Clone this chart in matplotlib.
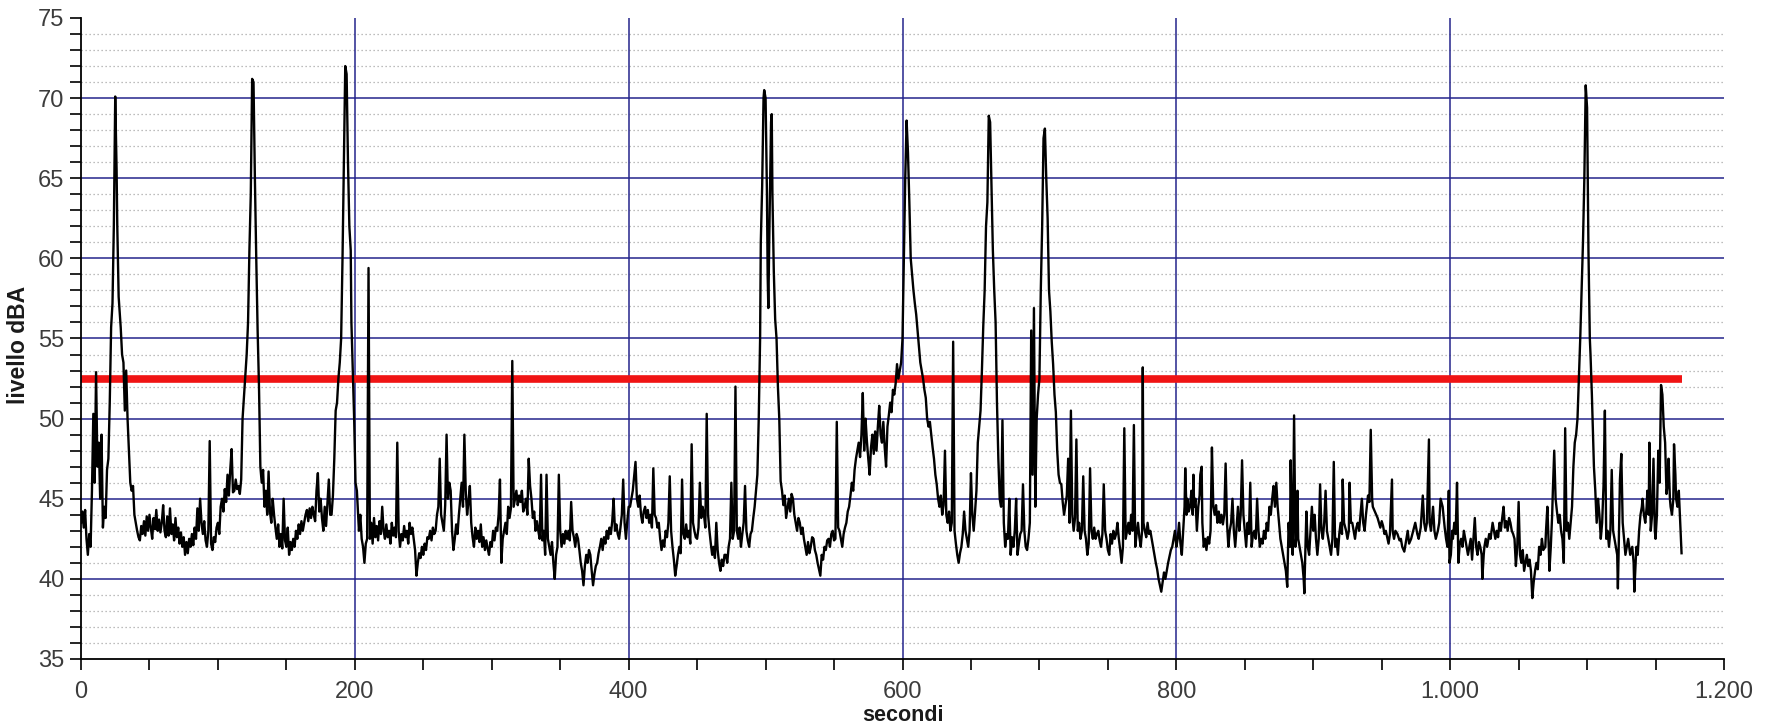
import matplotlib
matplotlib.use("Agg")
import matplotlib.pyplot as plt
import matplotlib.ticker as mticker

# ── data (seconds, dBA) ───────────────────────────────────────────────────────
seg_0_200 = [
    (0, 43.5), (1, 44.2), (2, 43.2), (3, 44.3), (4, 42.5), (5, 41.5), (6, 42.8), (7, 42.0),
    (8, 45.5), (9, 50.3), (10, 46.0), (11, 52.9), (12, 47.0), (13, 48.5), (14, 45.0), (15, 49.0),
    (16, 43.2), (17, 44.5), (18, 43.8), (19, 46.8), (20, 47.5), (21, 51.0), (22, 55.7), (23, 57.2),
    (24, 62.1), (25, 70.1), (26, 65.5), (26.5, 62.0), (27.5, 57.6), (29, 55.7), (30, 54.0), (31, 53.5),
    (32, 50.5), (33, 53.0), (34, 50.0), (35, 48.0), (36, 46.0), (37, 45.5), (38, 45.8), (39, 44.0),
    (40, 43.5), (41, 43.0), (42, 42.6), (43, 42.4), (44, 43.3), (45, 42.8), (46, 43.6), (47, 42.7),
    (48, 43.9), (49, 43.0), (50, 44.0), (51, 43.2), (52, 42.5), (53, 43.8), (54, 43.1), (55, 44.3),
    (56, 43.0), (57, 43.7), (58, 42.9), (59, 43.5), (60, 44.6), (61, 43.0), (62, 42.6), (63, 43.9),
    (64, 42.7), (65, 44.4), (66, 42.8), (67, 43.4), (68, 42.4), (69, 43.8), (70, 42.6), (71, 43.2),
    (72, 42.2), (73, 42.9), (74, 42.0), (75, 42.6), (76, 41.5), (77, 42.3), (78, 41.6), (79, 42.5),
    (80, 42.0), (81, 42.8), (82, 42.1), (83, 43.2), (84, 42.5), (85, 44.4), (86, 43.0), (87, 45.0),
    (88, 43.5), (89, 42.8), (90, 43.6), (91, 42.4), (92, 42.0), (93, 43.0), (94, 48.6), (95, 42.2),
    (96, 41.8), (97, 42.6), (98, 42.3), (99, 43.2), (100, 43.5), (101, 42.8), (102, 44.5), (103, 45.0),
    (104, 44.2), (105, 45.6), (106, 44.8), (107, 46.5), (108, 45.2), (109, 46.8), (110, 48.1), (111, 45.4),
    (112, 45.5), (113, 46.2), (114, 45.6), (115, 45.8), (116, 45.3), (117, 46.2), (118, 50.0), (119, 51.3),
    (120, 52.6), (121, 54.0), (122, 56.0), (123, 60.5), (124, 64.0), (125, 71.2), (126, 71.0), (127, 65.0),
    (128, 60.0), (129, 55.5), (130, 52.0), (131, 47.0), (132, 46.0), (133, 46.8), (134, 44.5), (135, 45.5),
    (136, 44.0), (137, 46.7), (138, 44.2), (139, 43.5), (140, 45.0), (141, 44.0), (142, 43.2), (143, 42.5),
    (144, 43.4), (145, 42.0), (146, 42.8), (147, 41.9), (148, 45.0), (149, 42.4), (150, 42.0), (151, 43.2),
    (152, 41.5), (153, 42.3), (154, 41.8), (155, 42.5), (156, 42.0), (157, 43.0), (158, 42.5), (159, 43.4),
    (160, 42.8), (161, 43.6), (162, 43.0), (163, 43.5), (164, 44.0), (165, 44.3), (166, 43.6), (167, 44.4),
    (168, 43.8), (169, 44.5), (170, 44.0), (171, 43.6), (172, 45.5), (173, 46.6), (174, 44.2), (175, 45.0),
    (176, 43.8), (177, 43.0), (178, 44.5), (179, 43.3), (180, 44.8), (181, 46.2), (182, 44.0), (183, 44.0),
    (184, 45.2), (185, 47.5), (186, 50.5), (187, 51.0), (188, 52.5), (189, 53.5), (190, 55.0), (191, 60.0),
    (192, 66.0), (193, 72.0), (194, 71.5), (195, 66.0), (196, 62.0), (197, 60.5), (197.5, 56.0),
    (198.5, 53.0), (199.5, 50.0), (200.5, 46.0),
]

seg_200_400 = [
    (201.5, 45.5), (203, 43.0), (204, 44.0), (205, 42.5), (206, 42.0), (207, 41.0), (208, 42.2), (209, 42.5),
    (210, 59.4), (211, 42.5), (212, 43.5), (213, 42.2), (214, 43.8), (215, 42.6), (216, 43.3), (217, 42.4),
    (218, 43.6), (219, 42.8), (220, 44.5), (221, 43.0), (222, 42.5), (223, 43.4), (224, 42.6), (225, 43.0),
    (226, 42.2), (227, 43.5), (228, 42.7), (229, 43.2), (230, 42.6), (231, 48.5), (232, 43.0), (233, 42.0),
    (234, 42.8), (235, 42.4), (236, 43.3), (237, 42.6), (238, 43.0), (239, 42.2), (240, 43.5), (241, 42.8),
    (242, 43.2), (243, 42.5), (244, 41.8), (245, 40.2), (246, 41.0), (247, 41.6), (248, 41.3), (249, 42.0),
    (250, 41.5), (251, 42.2), (252, 41.8), (253, 42.6), (254, 42.5), (255, 43.0), (256, 42.4), (257, 43.2),
    (258, 42.8), (259, 43.0), (260, 44.0), (261, 44.5), (262, 47.5), (263, 44.0), (264, 43.5), (265, 43.0),
    (266, 44.6), (267, 49.0), (268, 45.0), (269, 46.0), (270, 45.5), (271, 43.0), (272, 41.8), (273, 42.5),
    (274, 43.4), (275, 42.8), (276, 44.0), (277, 45.0), (278, 46.0), (279, 44.5), (280, 49.0), (281, 45.5),
    (282, 44.0), (283, 44.8), (284, 45.8), (285, 43.5), (286, 42.6), (287, 42.0), (288, 43.2), (289, 42.5),
    (290, 43.0), (291, 42.3), (292, 43.4), (293, 42.0), (294, 42.6), (295, 41.8), (296, 42.4), (297, 41.9),
    (298, 41.5), (299, 42.3), (300, 42.0), (301, 43.0), (302, 42.4), (303, 43.2), (304, 43.0), (305, 44.0),
    (306, 46.2), (307, 41.0), (308, 42.5), (309, 43.0), (310, 43.5), (311, 42.8), (312, 44.5), (313, 43.8),
    (314, 44.4), (315, 53.6), (316, 44.5), (317, 45.0), (318, 45.5), (319, 44.6), (320, 45.2), (321, 44.8),
    (322, 45.5), (323, 44.2), (324, 44.5), (325, 45.0), (326, 44.0), (327, 47.5), (328, 45.8), (329, 45.0),
    (330, 43.8), (331, 44.2), (332, 43.0), (333, 43.6), (334, 43.0), (335, 42.5), (336, 46.5), (337, 42.4),
    (338, 43.0), (339, 41.5), (340, 46.5), (341, 42.5), (342, 42.0), (343, 41.5), (344, 42.3), (345, 41.0),
    (346, 40.0), (347, 41.5), (348, 42.0), (349, 46.5), (350, 43.0), (351, 42.0), (352, 42.8), (353, 42.2),
    (354, 43.0), (355, 42.5), (356, 43.0), (357, 42.4), (358, 44.8), (359, 43.0), (360, 42.6), (361, 42.0),
    (362, 42.8), (363, 42.5), (364, 41.8), (365, 41.0), (366, 40.5), (367, 39.6), (368, 40.8), (369, 41.5),
    (370, 41.0), (371, 41.8), (372, 41.5), (373, 40.5), (374, 39.6), (375, 40.3), (376, 40.8), (377, 41.0),
    (378, 41.6), (379, 42.0), (380, 42.5), (381, 41.8), (382, 42.6), (383, 42.2), (384, 43.0), (385, 42.5),
    (386, 43.2), (387, 42.8), (388, 43.6), (389, 45.0), (390, 43.0), (391, 43.4), (392, 42.8), (393, 42.5),
    (394, 43.2), (395, 44.0), (396, 46.2), (397, 43.5), (398, 42.5), (399, 43.6), (400, 44.5),
]

seg_400_600 = [
    (401, 44.5), (402, 45.0), (403, 45.5), (404, 46.4), (405, 47.3), (406, 45.0), (407, 44.5), (408, 45.2),
    (409, 44.0), (410, 43.5), (411, 44.2), (412, 44.5), (413, 43.8), (414, 44.3), (415, 43.5), (416, 44.0),
    (417, 43.2), (418, 46.9), (419, 44.0), (420, 43.8), (421, 43.2), (422, 43.5), (423, 42.5), (424, 41.8),
    (425, 42.4), (426, 42.0), (427, 43.0), (428, 42.6), (429, 43.5), (430, 46.4), (431, 43.0), (432, 42.0),
    (433, 41.2), (434, 40.2), (435, 40.8), (436, 41.5), (437, 42.0), (438, 41.6), (439, 46.2), (440, 42.8),
    (441, 42.5), (442, 43.4), (443, 42.6), (444, 43.0), (445, 42.2), (446, 48.4), (447, 43.5), (448, 43.0),
    (449, 42.6), (450, 42.5), (451, 43.2), (452, 46.0), (453, 43.8), (454, 44.5), (455, 44.0), (456, 43.2),
    (457, 50.3), (458, 44.0), (459, 43.0), (460, 42.2), (461, 41.5), (462, 42.0), (463, 41.3), (464, 43.5),
    (465, 41.8), (466, 41.0), (467, 40.5), (468, 41.2), (469, 40.8), (470, 41.5), (471, 41.5), (472, 41.0),
    (473, 42.0), (474, 42.5), (475, 46.0), (476, 42.5), (477, 43.0), (478, 52.0), (479, 43.0), (480, 42.5),
    (481, 43.2), (482, 42.0), (483, 42.8), (484, 43.5), (485, 45.8), (486, 43.0), (487, 42.4), (488, 42.0),
    (489, 42.8), (490, 43.0), (491, 43.8), (492, 44.5), (493, 45.5), (494, 46.5), (495, 50.0), (496, 55.0),
    (496.5, 61.0), (497.5, 64.5), (498.5, 70.0), (499, 70.5), (500, 70.0), (501, 64.0), (501.5, 59.0),
    (502, 56.9), (503, 63.0), (504, 68.5), (504.5, 69.0), (505, 64.0), (506, 59.2), (507, 56.2), (508, 55.0),
    (509, 52.0), (510, 50.0), (511, 46.1), (512, 45.5), (513, 44.6), (514, 45.2), (515, 43.8), (516, 44.4),
    (517, 45.0), (518, 44.2), (519, 45.3), (520, 45.0), (521, 44.0), (522, 43.5), (523, 43.0), (524, 43.8),
    (525, 43.5), (526, 42.8), (527, 43.2), (528, 42.5), (529, 42.0), (530, 41.5), (531, 42.3), (532, 41.6),
    (533, 42.0), (534, 42.6), (535, 42.5), (536, 41.8), (537, 41.5), (538, 41.0), (539, 40.6), (540, 40.2),
    (541, 41.5), (542, 41.2), (543, 42.0), (544, 41.8), (545, 42.4), (546, 42.5), (547, 42.0), (548, 42.8),
    (549, 43.0), (550, 42.4), (551, 42.5), (552, 49.8), (553, 43.2), (554, 43.0), (555, 42.5), (556, 42.0),
    (557, 42.8), (558, 43.2), (559, 43.5), (560, 44.2), (561, 44.5), (562, 45.2), (563, 46.0), (564, 45.5),
    (565, 46.8), (566, 47.5), (567, 48.0), (568, 48.5), (569, 47.6), (570, 49.0), (571, 51.6), (572, 48.0),
    (573, 50.0), (574, 48.6), (575, 47.5), (576, 46.5), (577, 48.2), (578, 49.0), (579, 47.8), (580, 49.2),
    (581, 48.0), (582, 49.5), (583, 50.8), (584, 49.0), (585, 48.5), (586, 49.8), (587, 48.2), (588, 47.0),
    (589, 49.5), (590, 50.2), (591, 51.0), (592, 50.4), (593, 51.8), (594, 51.5), (595, 52.2), (596, 53.4),
    (597, 52.5), (598, 53.0), (599, 53.5), (600, 55.0),
]

seg_600_800 = [
    (601, 60.0), (602, 65.0), (603, 68.6), (604, 66.6), (605, 63.5), (606, 60.0), (607, 59.0), (608, 58.0),
    (609, 57.2), (610, 56.5), (611, 55.5), (612, 54.5), (613, 53.5), (614, 53.0), (615, 52.5), (616, 51.8),
    (617, 51.3), (618, 50.0), (619, 49.5), (620, 49.8), (621, 49.0), (622, 48.2), (623, 47.5), (624, 46.5),
    (625, 45.9), (626, 45.0), (627, 44.5), (628, 45.2), (629, 44.0), (630, 44.6), (631, 48.0), (632, 44.0),
    (633, 43.5), (634, 44.2), (635, 43.0), (636, 43.5), (637, 54.8), (638, 43.0), (639, 42.2), (640, 41.5),
    (641, 41.0), (642, 41.6), (643, 42.0), (644, 42.8), (645, 44.2), (646, 43.0), (647, 42.5), (648, 42.0),
    (649, 43.0), (650, 46.6), (651, 44.0), (652, 43.0), (653, 44.2), (654, 45.5), (655, 48.5), (656, 49.5),
    (657, 50.5), (658, 53.0), (659, 55.8), (660, 58.0), (661, 62.0), (662, 63.5), (663, 68.9), (664, 68.5),
    (665, 64.5), (666, 60.5), (667, 58.0), (668, 56.0), (669, 51.0), (670, 47.5), (671, 45.0), (672, 44.5),
    (673, 49.9), (674, 43.5), (675, 42.0), (676, 42.8), (677, 42.5), (678, 45.0), (679, 41.5), (680, 42.6),
    (681, 42.0), (682, 43.0), (683, 45.0), (684, 41.5), (685, 42.2), (686, 42.8), (687, 43.0), (688, 45.9),
    (689, 43.0), (690, 42.0), (691, 41.8), (692, 42.5), (693, 43.5), (694, 55.5), (695, 46.5), (696, 56.9),
    (697, 44.5), (698, 50.0), (699, 51.5), (700, 52.5), (701, 58.0), (702, 62.0), (703, 67.5), (704, 68.1),
    (705, 65.0), (706, 62.5), (707, 58.0), (708, 56.7), (709, 54.8), (710, 53.4), (711, 51.5), (712, 50.4),
    (713, 48.0), (714, 46.5), (715, 46.0), (716, 45.9), (717, 44.8), (718, 44.0), (719, 44.6), (720, 45.2),
    (721, 47.5), (722, 43.5), (723, 50.5), (724, 44.0), (725, 43.0), (726, 43.8), (727, 48.7), (728, 43.0),
    (729, 43.5), (730, 42.5), (731, 43.0), (732, 46.4), (733, 43.0), (734, 42.5), (735, 41.5), (736, 42.2),
    (737, 46.9), (738, 43.0), (739, 42.5), (740, 43.2), (741, 42.5), (742, 42.8), (743, 43.0), (744, 42.4),
    (745, 42.0), (746, 42.8), (747, 45.9), (748, 43.0), (749, 42.5), (750, 41.8), (751, 41.5), (752, 42.8),
    (753, 42.2), (754, 43.0), (755, 42.5), (756, 42.8), (757, 43.5), (758, 42.5), (759, 41.8), (760, 41.0),
    (761, 42.0), (762, 49.4), (763, 42.5), (764, 43.0), (765, 43.5), (766, 42.8), (767, 44.0), (768, 43.0),
    (769, 49.6), (770, 42.0), (771, 42.8), (772, 43.5), (773, 42.6), (774, 42.0), (775, 43.0), (775.5, 53.2),
    (776, 43.5), (777, 43.0), (778, 42.6), (779, 43.5), (780, 42.8), (781, 43.0), (782, 42.5), (783, 42.0),
    (784, 41.5), (785, 41.0), (786, 40.6), (787, 40.0), (788, 39.6), (789, 39.2), (790, 39.8), (791, 40.4),
    (792, 40.0), (793, 40.5), (794, 41.0), (795, 41.4), (796, 41.8), (797, 42.0), (798, 42.5), (799, 43.0),
    (800, 42.0),
]

seg_800_1000 = [
    (801, 42.5), (802, 43.5), (803, 42.2), (804, 41.5), (805, 43.0), (806, 44.5), (806.5, 46.9), (807.5, 44.0),
    (808, 45.0), (809, 44.2), (810, 44.5), (811, 45.5), (812, 44.0), (812.5, 46.5), (813, 44.5), (814, 45.0),
    (815, 43.0), (816, 44.5), (817, 45.2), (817.5, 46.5), (818.5, 47.0), (819, 43.5), (820, 42.0), (821, 42.5),
    (822, 41.8), (823, 42.6), (824, 42.2), (825, 43.0), (826, 48.2), (827, 44.5), (828, 44.0), (829, 44.6),
    (830, 43.5), (831, 44.2), (832, 43.5), (833, 44.0), (834, 43.4), (835, 44.0), (836, 47.2), (837, 43.5),
    (838, 42.0), (839, 43.0), (840, 43.5), (841, 45.0), (842, 43.0), (843, 42.0), (844, 43.2), (845, 44.5),
    (846, 43.0), (847, 44.0), (848, 47.4), (849, 44.0), (850, 43.0), (851, 42.0), (852, 43.5), (853, 42.8),
    (854, 46.0), (855, 42.0), (856, 42.8), (857, 43.0), (858, 42.5), (859, 45.0), (860, 43.0), (861, 42.0),
    (862, 42.5), (863, 42.2), (864, 43.0), (865, 42.5), (866, 43.5), (867, 43.0), (868, 44.5), (869, 44.0),
    (870, 45.0), (871, 45.8), (872, 44.5), (873, 46.0), (874, 44.5), (875, 43.5), (876, 42.5), (877, 42.0),
    (878, 41.5), (879, 41.0), (880, 40.5), (881, 39.5), (882, 43.5), (883, 42.0), (883.5, 47.4), (884.5, 42.0),
    (885, 41.5), (886, 50.2), (887, 42.0), (888, 43.0), (888.5, 45.5), (889, 42.5), (890, 42.0), (891, 41.5),
    (892, 41.0), (893, 40.0), (893.5, 39.1), (894, 41.0), (895, 44.2), (896, 42.0), (897, 41.5), (898, 43.0),
    (899, 44.5), (900, 43.0), (901, 44.0), (902, 42.5), (903, 41.5), (904, 42.5), (905, 45.9), (906, 43.0),
    (907, 42.5), (908, 43.5), (909, 45.5), (910, 43.0), (911, 42.5), (912, 42.0), (913, 41.5), (914, 42.5),
    (915, 47.3), (916, 42.0), (917, 42.5), (918, 41.5), (919, 42.8), (920, 43.5), (921, 42.8), (921.5, 46.2),
    (922.5, 43.5), (924, 43.0), (925, 42.5), (926, 43.0), (926.5, 46.0), (927.5, 43.5), (928.5, 43.5),
    (929.5, 43.0), (930.5, 42.5), (931.5, 43.2), (932.5, 43.5), (933.5, 43.0), (934.5, 44.0), (935.5, 45.0),
    (936.5, 43.5), (937.5, 43.0), (938.5, 44.0), (940, 45.2), (941, 44.8), (942, 49.3), (943, 45.0),
    (943.5, 44.5), (945, 44.2), (946, 44.0), (947, 43.8), (948, 43.5), (949, 43.2), (950, 43.6), (951, 43.3),
    (952, 42.8), (953, 43.0), (954, 42.6), (955, 42.2), (956, 42.8), (957.5, 46.2), (958, 43.0), (959, 42.5),
    (960, 43.0), (961.5, 42.8), (963, 42.4), (964, 42.5), (965, 42.0), (966.5, 41.7), (968, 42.5), (969, 43.0),
    (970, 42.2), (971.5, 42.5), (973, 43.0), (974.5, 43.5), (976, 42.8), (977, 42.5), (978.5, 43.2),
    (980, 45.2), (981, 43.5), (982, 43.0), (983, 43.5), (984.5, 48.7), (985, 43.5), (986, 43.0), (987.5, 44.5),
    (988.5, 43.0), (989.5, 42.5), (991, 43.0), (992, 43.5), (993, 45.0), (994.5, 44.5), (996, 43.2),
    (997, 42.5), (998, 42.0), (999, 45.5), (999.5, 41.0), (1000.5, 41.5),
]

seg_1000_1170 = [
    (1001.5, 43.0), (1002, 42.5), (1003, 43.5), (1004, 42.8), (1005, 46.0), (1006, 41.0), (1007, 42.2),
    (1008, 42.5), (1009, 42.0), (1010, 43.0), (1011, 42.5), (1012, 42.0), (1013, 41.5), (1014, 42.0),
    (1015, 42.5), (1016, 41.2), (1017, 42.5), (1018, 43.8), (1019, 42.0), (1020, 41.5), (1021, 42.3),
    (1022, 42.0), (1023, 41.5), (1023.5, 40.0), (1024.5, 41.5), (1025, 42.0), (1026, 42.5), (1027, 42.0),
    (1028.5, 42.8), (1029.5, 42.5), (1031, 43.5), (1032, 43.0), (1033, 42.5), (1034, 43.0), (1035, 42.6),
    (1036, 43.5), (1037, 43.0), (1038, 43.8), (1039, 44.5), (1040, 43.2), (1041, 43.6), (1042, 43.0),
    (1043, 43.8), (1044, 43.5), (1045, 43.0), (1046, 42.8), (1047, 42.5), (1048, 40.8), (1049, 42.0),
    (1050, 44.8), (1051, 41.5), (1052, 41.0), (1053, 41.8), (1054, 40.5), (1055, 41.0), (1056, 41.5),
    (1057, 40.8), (1058, 41.2), (1059, 40.5), (1060, 38.8), (1061, 39.8), (1062, 40.5), (1063, 41.0),
    (1064, 40.6), (1065, 42.0), (1066, 41.5), (1067, 42.5), (1068, 41.8), (1069.5, 42.0), (1070, 43.0),
    (1071, 44.5), (1072, 42.0), (1072.5, 40.5), (1073.5, 42.0), (1074.5, 44.0), (1075, 45.5), (1076, 48.0),
    (1077, 45.0), (1078, 44.2), (1079, 43.5), (1080, 44.0), (1081, 43.0), (1082, 42.5), (1083, 41.0),
    (1084, 49.4), (1085, 43.0), (1086, 43.5), (1087, 42.5), (1088, 43.5), (1089, 44.5), (1090, 47.0),
    (1091, 48.5), (1092, 49.0), (1093, 50.0), (1094, 52.5), (1095, 55.0), (1096, 58.0), (1097, 61.0),
    (1098, 65.0), (1099, 70.8), (1100, 69.4), (1101, 60.5), (1102, 55.0), (1102.5, 54.0), (1103.5, 51.5),
    (1105, 47.0), (1106, 45.5), (1107, 43.5), (1108, 45.0), (1109, 44.0), (1110, 42.5), (1111, 43.5),
    (1112, 45.8), (1113, 50.5), (1114, 42.5), (1115, 43.0), (1116, 42.0), (1117, 43.0), (1118, 46.8),
    (1119, 43.0), (1120, 42.5), (1121, 42.0), (1122, 41.5), (1122.5, 39.4), (1123, 41.5), (1124, 46.2),
    (1125, 47.8), (1126, 43.5), (1127, 42.5), (1128, 41.5), (1129, 42.0), (1130, 42.5), (1131, 41.8),
    (1131.5, 41.5), (1133, 42.0), (1134, 41.0), (1134.5, 39.2), (1135.5, 41.0), (1136, 42.0), (1137, 41.5),
    (1138, 43.0), (1139, 44.0), (1140, 44.5), (1140.5, 45.0), (1141.5, 44.0), (1142.5, 43.5), (1143.5, 44.5),
    (1144, 45.5), (1145, 44.0), (1145.5, 48.5), (1146.5, 43.0), (1147.5, 44.0), (1148.5, 47.5), (1149.5, 43.0),
    (1150, 42.5), (1151, 44.0), (1152, 48.0), (1153, 46.0), (1154, 52.1), (1155, 51.5), (1156, 49.5),
    (1157, 48.5), (1158, 45.3), (1159, 46.0), (1159.5, 47.5), (1160.5, 45.0), (1161, 44.5), (1162, 44.0),
    (1163, 45.0), (1163.5, 48.4), (1164.5, 46.5), (1165, 45.0), (1166, 44.5), (1167, 45.5), (1167.5, 44.5),
    (1168, 43.5), (1169, 41.6),
]

threshold_db = 52.5          # red reference level
threshold_end = 1169          # seconds where the red line stops
x_ticks = [0, 200, 400, 600, 800, 1000, 1200]
y_ticks = [35, 40, 45, 50, 55, 60, 65, 70, 75]

# ── colours ────────────────────────────────────────────────────────────────────
C_TRACE = "#000000"
C_LIMIT = "#f01414"
C_MAJOR = "#24248c"
C_MINOR = "#a8a8a8"
C_TICKTXT = "#3c3c3c"

all_points = seg_0_200 + seg_200_400 + seg_400_600 + seg_600_800 + seg_800_1000 + seg_1000_1170
secondi = [p[0] for p in all_points]
livello = [p[1] for p in all_points]

fig = plt.figure(figsize=(17.69, 7.26), dpi=100)
fig.patch.set_facecolor("white")
ax = fig.add_axes([81 / 1769, 1 - 659 / 726, (1724 - 81) / 1769, (659 - 18) / 726])

ax.set_xlim(0, 1200)
ax.set_ylim(35, 75)

# dotted 1 dB grid, then the blue 5 dB / 200 s grid
for y in range(36, 75):
    if y % 5 != 0:
        ax.axhline(y, color=C_MINOR, linestyle=(0, (1, 2.2)), linewidth=0.9, zorder=1)
for y in y_ticks[1:-1]:
    ax.axhline(y, color=C_MAJOR, linewidth=1.1, zorder=2)
for x in x_ticks[1:-1]:
    ax.axvline(x, color=C_MAJOR, linewidth=1.1, zorder=2)

ax.hlines(threshold_db, 0, threshold_end, color=C_LIMIT, linewidth=5.5, zorder=3)
ax.plot(secondi, livello, color=C_TRACE, linewidth=1.7, zorder=4)

for side in ("top", "right"):
    ax.spines[side].set_visible(False)
for side in ("left", "bottom"):
    ax.spines[side].set_linewidth(1.3)
    ax.spines[side].set_zorder(5)

ax.set_xticks(x_ticks)
ax.xaxis.set_minor_locator(mticker.MultipleLocator(50))
ax.xaxis.set_major_formatter(mticker.FuncFormatter(lambda v, _: f"{int(v):,}".replace(",", ".")))
ax.set_yticks(y_ticks)
ax.yaxis.set_minor_locator(mticker.MultipleLocator(1))
ax.tick_params(which="both", direction="out", length=8, width=1.2, color="black")
ax.tick_params(which="major", labelsize=17, labelcolor=C_TICKTXT, pad=4)
ax.tick_params(axis="x", which="major", pad=8)
for lab in ax.get_xticklabels() + ax.get_yticklabels():
    lab.set_fontfamily("Liberation Sans")

ax.set_xlabel("secondi", fontsize=15.5, fontweight="bold", family="Liberation Sans", color="#1a1a1a", labelpad=1)
ax.set_ylabel("livello dBA", fontsize=16.5, fontweight="bold", family="Liberation Sans", color="#1a1a1a")
ax.yaxis.set_label_coords(-0.031, 0.49)

fig.savefig("out.png", dpi=100, facecolor="white")
